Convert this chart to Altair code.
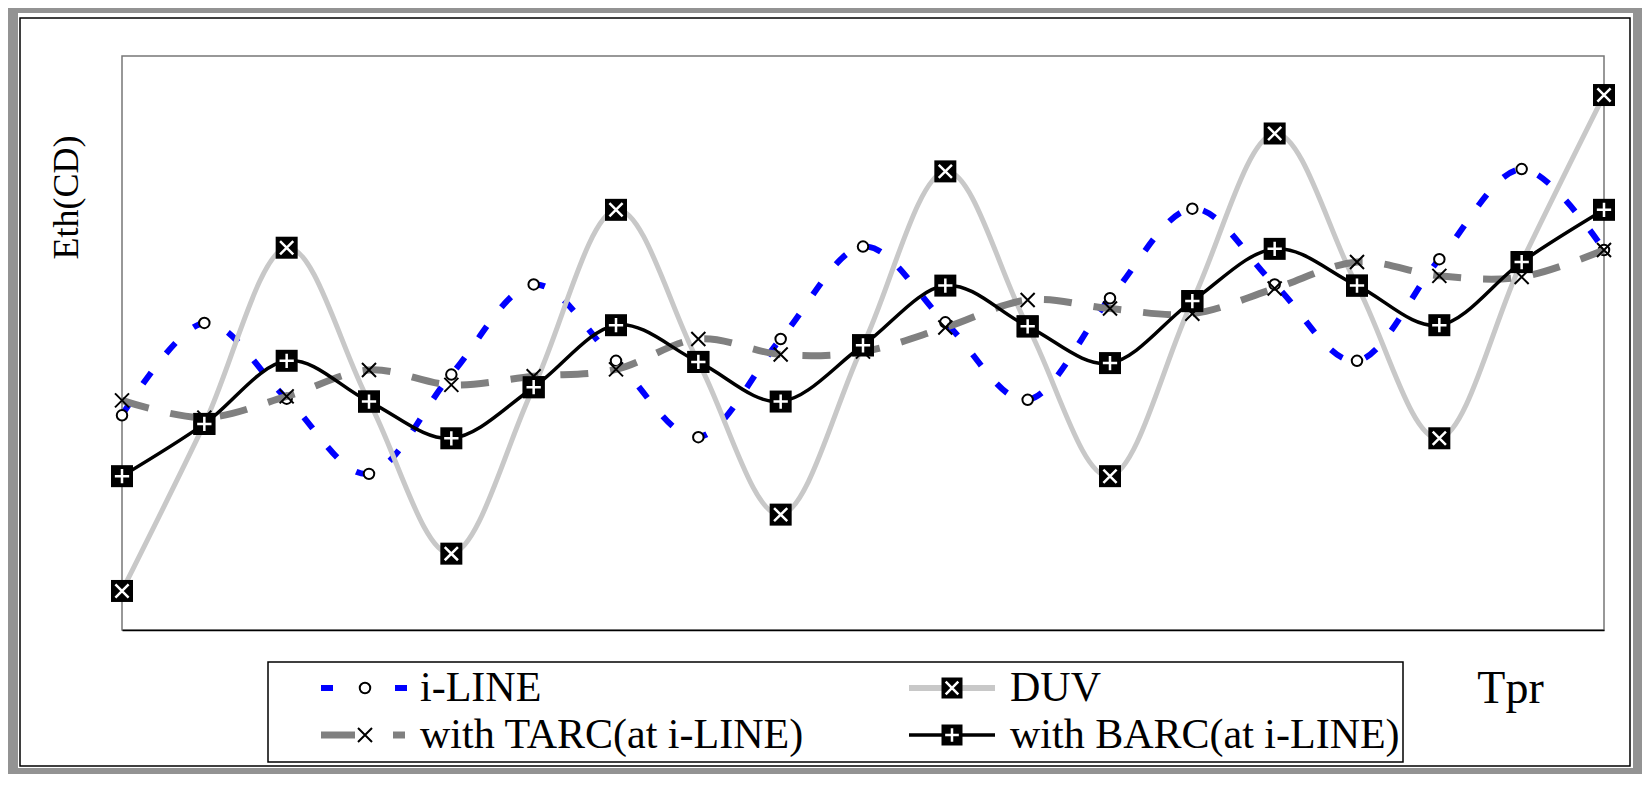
import altair as alt
import pandas as pd

# ---- data ----
tpr = [0, 1, 2, 3, 4, 5, 6, 7, 8, 9, 10, 11, 12, 13, 14, 15, 16, 17, 18]
iline = [37.4, 53.5, 40.3, 27.2, 44.5, 60.2, 46.9, 33.6, 50.7, 66.8, 53.6, 40.1, 57.8, 73.4, 60.2, 46.9, 64.6, 80.3, 66.2]
duv = [6.8, 35.9, 66.6, 39.8, 13.3, 42.3, 73.2, 46.7, 20.1, 49.6, 79.9, 52.9, 26.8, 57.3, 86.5, 60.0, 33.4, 64.1, 93.2]
tarc = [40.0, 37.0, 40.7, 45.3, 42.7, 44.2, 45.4, 50.7, 48.0, 48.5, 52.7, 57.5, 56.0, 55.1, 59.5, 64.1, 61.7, 61.5, 66.2]
barc = [26.8, 35.9, 46.9, 39.8, 33.4, 42.3, 53.1, 46.7, 39.8, 49.6, 60.0, 52.9, 46.5, 57.3, 66.4, 60.0, 53.1, 64.1, 73.2]
series_names = ["i-LINE", "DUV", "with TARC(at i-LINE)", "with BARC(at i-LINE)"]

rows = []
for name, vals in zip(series_names, [iline, duv, tarc, barc]):
    for t, v in zip(tpr, vals):
        rows.append({"tpr": t, "eth": v, "series": name})
df = pd.DataFrame(rows)

FONT = "Liberation Serif"
W, H = 1482, 574

X_PATH = "M-1,-1L1,1M-1,1L1,-1"
XS_PATH = "M-0.6,-0.6L0.6,0.6M-0.6,0.6L0.6,-0.6"
PLUS_PATH = "M-0.65,0L0.65,0M0,-0.65L0,0.65"

x_enc = alt.X("tpr:Q", scale=alt.Scale(domain=[0, 18], nice=False, zero=False),
              axis=alt.Axis(title="Tpr", labels=False, ticks=False, grid=False,
                            domain=True, domainColor="black", domainWidth=1.5,
                            titleFont=FONT, titleFontSize=46, titleFontWeight="normal",
                            titleColor="black", titleX=1388, titleY=58,
                            titleAlign="center", titleBaseline="middle"))
y_enc = alt.Y("eth:Q", scale=alt.Scale(domain=[0, 100], nice=False, zero=False),
              axis=alt.Axis(title="Eth(CD)", labels=False, ticks=False, grid=False,
                            domain=False, titleFont=FONT, titleFontSize=36,
                            titleFontWeight="normal", titleColor="black",
                            titleAngle=270, titleX=-56, titleY=141,
                            titleAlign="center", titleBaseline="middle"))

base = alt.Chart(df)

def sub(name):
    return base.transform_filter(alt.datum.series == name)

# series layers
iline_line = sub("i-LINE").mark_line(interpolate="cardinal", color="#0000ff", strokeWidth=6,
                                      strokeDash=[14, 24]).encode(x=x_enc, y=y_enc)
iline_pts = sub("i-LINE").mark_point(shape="circle", size=110, filled=True, fill="white",
                                     stroke="black", strokeWidth=2, opacity=1).encode(x=x_enc, y=y_enc)
duv_line = sub("DUV").mark_line(interpolate="cardinal", color="#c8c8c8", strokeWidth=5).encode(x=x_enc, y=y_enc)
duv_sq = sub("DUV").mark_point(shape="square", size=484, filled=True, color="black", opacity=1).encode(x=x_enc, y=y_enc)
duv_x = sub("DUV").mark_point(shape=XS_PATH, size=484, filled=False, stroke="white",
                              strokeWidth=2.5, opacity=1).encode(x=x_enc, y=y_enc)
tarc_line = sub("with TARC(at i-LINE)").mark_line(interpolate="cardinal", color="#808080", strokeWidth=7,
                                                   strokeDash=[28, 22]).encode(x=x_enc, y=y_enc)
tarc_pts = sub("with TARC(at i-LINE)").mark_point(shape=X_PATH, size=196, filled=False, stroke="black",
                                                  strokeWidth=2, opacity=1).encode(x=x_enc, y=y_enc)
barc_line = sub("with BARC(at i-LINE)").mark_line(interpolate="cardinal", color="black",
                                                   strokeWidth=3.5).encode(x=x_enc, y=y_enc)
barc_sq = sub("with BARC(at i-LINE)").mark_point(shape="square", size=484, filled=True, color="black",
                                                 opacity=1).encode(x=x_enc, y=y_enc)
barc_plus = sub("with BARC(at i-LINE)").mark_point(shape=PLUS_PATH, size=484, filled=False, stroke="white",
                                                   strokeWidth=2.5, opacity=1).encode(x=x_enc, y=y_enc)

# ---- decorations and hand-built legend ----
one = alt.Data(values=[{"k": 1}])

def rect(x, x2, y, y2, **kw):
    return alt.Chart(one).mark_rect(**kw).encode(
        x=alt.value(x), x2=alt.value(x2), y=alt.value(y), y2=alt.value(y2))

def rule(x, x2, y, **kw):
    return alt.Chart(one).mark_rule(**kw).encode(x=alt.value(x), x2=alt.value(x2), y=alt.value(y))

def sym(x, y, **kw):
    return alt.Chart(one).mark_point(opacity=1, **kw).encode(x=alt.value(x), y=alt.value(y))

def label(x, y, txt, size=42):
    return alt.Chart(one).mark_text(text=txt, align="left", baseline="middle", font=FONT,
                                    fontSize=size, color="black").encode(x=alt.value(x), y=alt.value(y))

outer = rect(-109, 1516, -48, 717, fillOpacity=0, stroke="#939393", strokeWidth=10)
inner = rect(-102, 1508, -38, 710, fillOpacity=0, stroke="black", strokeWidth=1.5)
legbox = rect(146, 1281, 606, 706, fill="white", stroke="black", strokeWidth=1.5)

R1, R2 = 632, 679
C1, C2 = 199, 787
leg = [
    # i-LINE
    rule(C1, C1 + 12, R1, color="#0000ff", strokeWidth=6),
    rule(C1 + 74, C1 + 86, R1, color="#0000ff", strokeWidth=6),
    sym(C1 + 44, R1, shape="circle", size=110, filled=True, fill="white", stroke="black", strokeWidth=2),
    label(298, R1, "i-LINE"),
    # TARC
    rule(C1, C1 + 34, R2, color="#808080", strokeWidth=7),
    rule(C1 + 72, C1 + 84, R2, color="#808080", strokeWidth=7),
    sym(C1 + 44, R2, shape=X_PATH, size=196, filled=False, stroke="black", strokeWidth=2),
    label(298, R2, "with TARC(at i-LINE)"),
    # DUV
    rule(C2, C2 + 86, R1, color="#c8c8c8", strokeWidth=6),
    sym(C2 + 43, R1, shape="square", size=441, filled=True, color="black"),
    sym(C2 + 43, R1, shape=XS_PATH, size=441, filled=False, stroke="white", strokeWidth=2.5),
    label(888, R1, "DUV"),
    # BARC
    rule(C2, C2 + 86, R2, color="black", strokeWidth=3.5),
    sym(C2 + 43, R2, shape="square", size=441, filled=True, color="black"),
    sym(C2 + 43, R2, shape=PLUS_PATH, size=441, filled=False, stroke="white", strokeWidth=2.5),
    label(888, R2, "with BARC(at i-LINE)"),
]

chart = alt.layer(
    outer, inner,
    iline_line, iline_pts,
    duv_line, duv_sq, duv_x,
    tarc_line, tarc_pts,
    barc_line, barc_sq, barc_plus,
    legbox, *leg,
).properties(
    width=W, height=H,
    padding={"left": 114, "top": 48, "right": 38, "bottom": 144},
    autosize=alt.AutoSizeParams(type="none"),
    background="white",
).configure_view(stroke="#777777", strokeWidth=1.5)

chart.save("out.html", embed_options={"renderer": "svg", "actions": False})
